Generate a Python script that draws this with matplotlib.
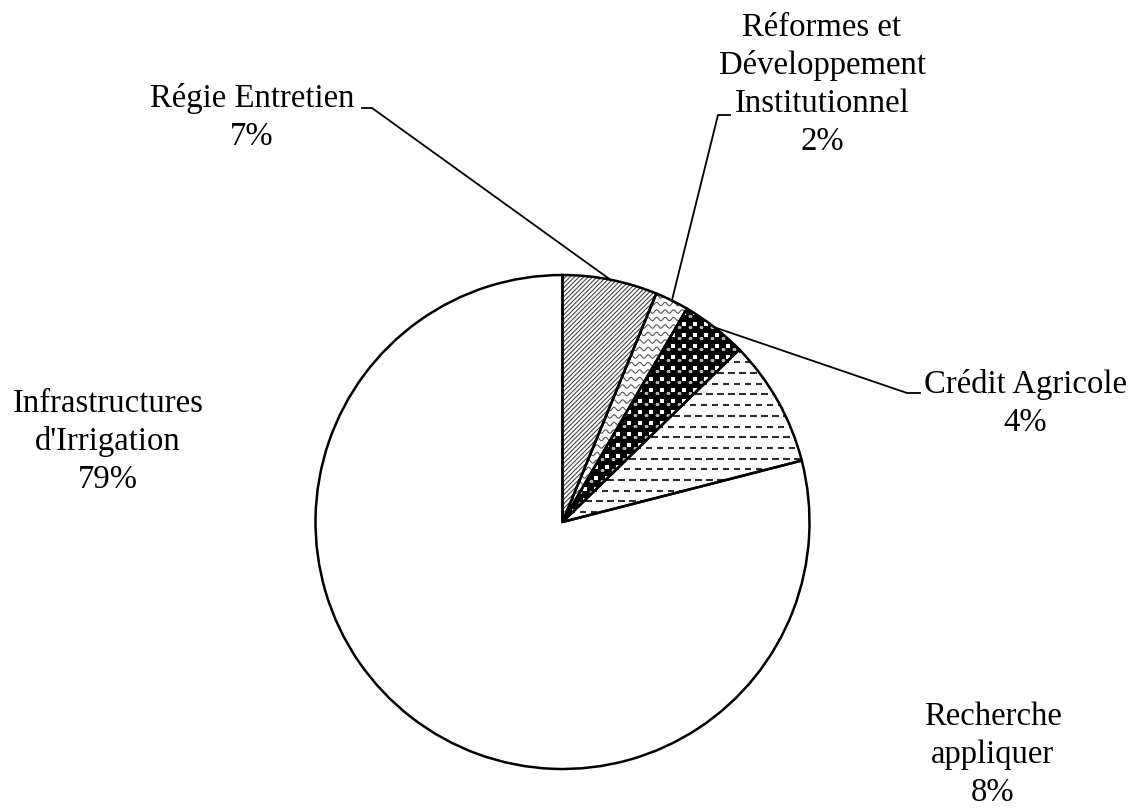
import numpy as np
import matplotlib.pyplot as plt
from matplotlib.collections import LineCollection
from matplotlib.patches import Wedge

# Données
categories = ["Régie Entretien",
              "Réformes et\nDéveloppement\nInstitutionnel",
              "Crédit Agricole",
              "Recherche\nappliquer",
              "Infrastructures\nd'Irrigation"]
values = [6.2, 2.2, 4.3, 8.3, 79.0]
pct_labels = ["7%", "2%", "4%", "8%", "79%"]

W, H = 1140, 808
cx, cy, r = 562.5, H - 522, 247

fig = plt.figure(figsize=(W / 100, H / 100), dpi=100)
ax = fig.add_axes([0, 0, 1, 1])

wedges, _ = ax.pie(values, startangle=90, counterclock=False, center=(cx, cy),
                   radius=r, colors=['white'] * len(values),
                   wedgeprops=dict(edgecolor='none', linewidth=0))
ax.set_xlim(0, W)
ax.set_ylim(0, H)
ax.set_aspect('equal')
ax.axis('off')


def clip_to(coll, wedge):
    coll.set_clip_path(wedge)
    ax.add_collection(coll)


# 1. hachures diagonales fines
segs = []
for c in np.arange(-2 * r, 2 * r, 4.5):
    x0, y0 = cx - r + c, cy - r
    segs.append([(x0, y0), (x0 + 2 * r, y0 + 2 * r)])
clip_to(LineCollection(segs, colors='#3a3a3a', linewidths=0.75, zorder=2), wedges[0])

# 2. lignes ondulees
xs = np.arange(cx - r, cx + r, 0.5)
segs = []
for yy in np.arange(cy - r, cy + r, 7.5):
    segs.append(np.column_stack([xs, yy + 1.7 * np.sin(2 * np.pi * xs / 8.5)]))
clip_to(LineCollection(segs, colors='#555555', linewidths=0.8, zorder=2), wedges[1])

# 3. billes noires
w = wedges[2]
ax.add_patch(Wedge((cx, cy), r, w.theta1, w.theta2, facecolor='black',
                   edgecolor='none', zorder=2))
s = 11.0
gx, gy = np.meshgrid(np.arange(cx - r, cx + r, s), np.arange(cy - r, cy + r, s))
sq = ax.scatter(gx.ravel() + s / 2, gy.ravel() + s / 2, marker='s', s=9,
                color='white', linewidths=0, zorder=3)
sq.set_clip_path(w)
hl = ax.scatter(gx.ravel(), gy.ravel() + 2, marker='_', s=6, color='#b0b0b0',
                linewidths=0.9, zorder=3)
hl.set_clip_path(w)

# 4. tirets horizontaux
segs = []
for k, yy in enumerate(np.arange(cy - r, cy + r, 10.7)):
    off = 0 if k % 2 == 0 else 5.5
    for xx in np.arange(cx - r + off, cx + r, 11):
        segs.append([(xx, yy), (xx + 6.5, yy)])
clip_to(LineCollection(segs, colors='#2e2e2e', linewidths=1.5, zorder=2), wedges[3])

# contours
for w in wedges:
    ax.add_patch(Wedge((cx, cy), r, w.theta1, w.theta2, fill=False,
                       edgecolor='black', linewidth=1.8, zorder=4))

# étiquettes
font = dict(family=['Liberation Serif', 'DejaVu Serif'], fontsize=23.6, color='black')
label_pos = [(252, 107), (822, 36), (1025, 393), (993, 725), (108, 412)]
for cat, pct, (lx, ly) in zip(categories, pct_labels, label_pos):
    lines = cat.split('\n') + [pct]
    for i, line in enumerate(lines):
        ax.text(lx, H - (ly + 38 * i), line, ha='center', va='baseline', **font)

# lignes de rappel
leaders = {0: [(362, 108), (372, 108)],
           1: [(730, 115), (718, 115)],
           2: [(920, 393), (907, 393)]}
for i, pts in leaders.items():
    w = wedges[i]
    a = np.deg2rad((w.theta1 + w.theta2) / 2)
    end = (cx + r * np.cos(a), cy + r * np.sin(a))
    xs_l = [p[0] for p in pts] + [end[0]]
    ys_l = [H - p[1] for p in pts] + [end[1]]
    ax.plot(xs_l, ys_l, color='black', linewidth=1.3, zorder=5)

fig.savefig('out.png', dpi=100, facecolor='white')
